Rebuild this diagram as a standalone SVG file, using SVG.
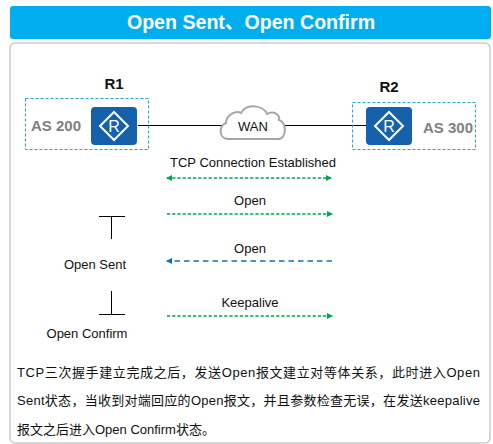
<svg xmlns="http://www.w3.org/2000/svg" width="493" height="444" viewBox="0 0 493 444">
<style>
text{font-family:"Liberation Sans","Noto Sans CJK SC",sans-serif;fill:#111}
.l{font-size:13px;text-anchor:middle}
.b{font-size:15px;font-weight:bold;text-anchor:middle}
.as{font-size:15px;font-weight:bold;fill:#807f80}
.p{font-size:13px}
.zone{fill:none;stroke:#2ba6c6;stroke-width:1;stroke-dasharray:3 2}
.g{stroke:#00a651;stroke-width:1.3;stroke-dasharray:3.2 2;fill:none}
.bl{stroke:#0f6fb8;stroke-width:1.3;stroke-dasharray:5.5 4;fill:none}
.k{stroke:#000;stroke-width:1;fill:none}
.r{fill:#1661ab}
.d{fill:none;stroke:#fff;stroke-width:2}
.rt{font-size:16px;fill:#fff;text-anchor:middle}
</style>
<defs>
<marker id="ag" markerUnits="userSpaceOnUse" markerWidth="6" markerHeight="6" refX="5" refY="3" orient="auto-start-reverse"><path d="M0 0L6 3L0 6Z" fill="#00a651"/></marker>
<marker id="ab" markerUnits="userSpaceOnUse" markerWidth="6" markerHeight="6" refX="5" refY="3" orient="auto"><path d="M0 0L6 3L0 6Z" fill="#0f6fb8"/></marker>
</defs>
<rect width="493" height="444" fill="#fff"/>
<g id="title"><rect x="10" y="6" width="481" height="33" rx="3" fill="#00aeef"/><text x="251" y="29" font-size="19.600" font-weight="bold" text-anchor="middle" style="fill:#fff">Open Sent、Open Confirm</text></g>
<rect id="panel" x="10" y="43" width="480" height="400" rx="5" fill="#fff" stroke="#ccc" stroke-width="1.5"/>
<g id="connectors">
<path class="k" d="M138 125.500H222M284 125.500H366"/>
<path class="g" d="M167 178H331" marker-start="url(#ag)" marker-end="url(#ag)"/>
<path class="g" d="M167 214H332" marker-end="url(#ag)"/>
<path class="bl" d="M332 261H167" marker-end="url(#ab)"/>
<path class="g" d="M167 316H332" marker-end="url(#ag)"/>
<path class="k" d="M99 216.500H125M111.500 216V239M111.500 291V315M99 314.500H125"/>
</g>
<g id="as200"><rect class="zone" x="25.500" y="98.500" width="123" height="51"/><text class="as" x="31" y="131">AS 200</text></g>
<g id="r1"><text class="b" x="114" y="89">R1</text><rect class="r" x="91" y="107" width="46" height="38" rx="4"/><path class="d" d="M114 112L128 126L114 140L100 126Z"/><text class="rt" x="114" y="132">R</text></g>
<g id="as300"><rect class="zone" x="352.500" y="102.500" width="123" height="47"/><text class="as" x="423" y="133">AS 300</text></g>
<g id="r2"><text class="b" x="389" y="92">R2</text><rect class="r" x="366" y="107" width="46" height="38" rx="4"/><path class="d" d="M389 112L403 126L389 140L375 126Z"/><text class="rt" x="389" y="132">R</text></g>
<g id="wan"><path d="M228 139C219 139 218 126 226 123C226 115 236 110 241 113C247 102 264 106 267 114C274 110 280 115 279 120C287 122 287 139 278 139Z" fill="#fff" stroke="#a6a6a6" stroke-width="2"/><text class="l" x="253" y="131">WAN</text></g>
<g id="labels">
<text class="l" x="253" y="167">TCP Connection Established</text>
<text class="l" x="250" y="205">Open</text>
<text class="l" x="250" y="253">Open</text>
<text class="l" x="95" y="269">Open Sent</text>
<text class="l" x="250" y="307">Keepalive</text>
<text class="l" x="87" y="338">Open Confirm</text>
</g>
<g id="body">
<text class="p" x="17" y="377" textLength="463">TCP三次握手建立完成之后，发送Open报文建立对等体关系，此时进入Open</text>
<text class="p" x="17" y="405" textLength="463">Sent状态，当收到对端回应的Open报文，并且参数检查无误，在发送keepalive</text>
<text class="p" x="17" y="434">报文之后进入Open Confirm状态。</text>
</g>
</svg>
